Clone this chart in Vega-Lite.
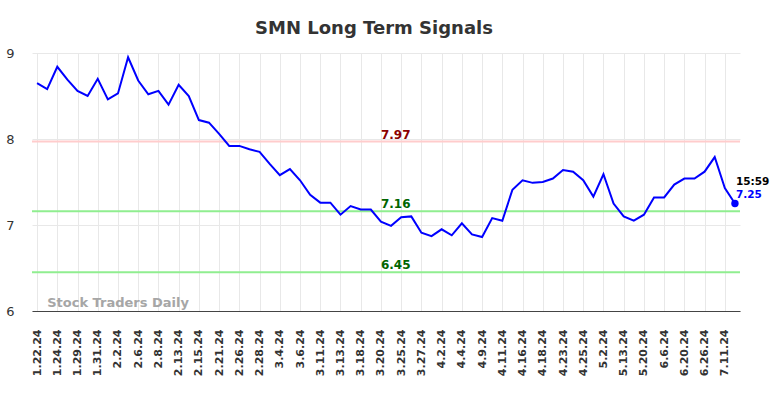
{
  "$schema": "https://vega.github.io/schema/vega-lite/v6.json",
  "width": 708,
  "height": 258,
  "autosize": "none",
  "padding": {"left": 32, "top": 53, "right": 44, "bottom": 87},
  "background": "white",
  "title": {
    "text": "SMN Long Term Signals",
    "font": "DejaVu Sans",
    "fontSize": 18,
    "fontWeight": "bold",
    "color": "#333333",
    "anchor": "middle",
    "dx": -12,
    "offset": 9
  },
  "config": {
    "view": {"stroke": null},
    "font": "DejaVu Sans"
  },
  "datasets": {
    "prices": [
      {"date": "1.22.24", "close": 8.65},
      {"date": "1.23.24", "close": 8.58},
      {"date": "1.24.24", "close": 8.84},
      {"date": "1.26.24", "close": 8.69},
      {"date": "1.29.24", "close": 8.56},
      {"date": "1.30.24", "close": 8.50},
      {"date": "1.31.24", "close": 8.70},
      {"date": "2.1.24", "close": 8.46},
      {"date": "2.2.24", "close": 8.53},
      {"date": "2.5.24", "close": 8.95},
      {"date": "2.6.24", "close": 8.68},
      {"date": "2.7.24", "close": 8.52},
      {"date": "2.8.24", "close": 8.56},
      {"date": "2.12.24", "close": 8.40},
      {"date": "2.13.24", "close": 8.63},
      {"date": "2.14.24", "close": 8.50},
      {"date": "2.15.24", "close": 8.22},
      {"date": "2.20.24", "close": 8.19},
      {"date": "2.21.24", "close": 8.06},
      {"date": "2.23.24", "close": 7.92},
      {"date": "2.26.24", "close": 7.92},
      {"date": "2.27.24", "close": 7.88},
      {"date": "2.28.24", "close": 7.85},
      {"date": "3.1.24", "close": 7.71},
      {"date": "3.4.24", "close": 7.58},
      {"date": "3.5.24", "close": 7.65},
      {"date": "3.6.24", "close": 7.52},
      {"date": "3.8.24", "close": 7.35},
      {"date": "3.11.24", "close": 7.26},
      {"date": "3.12.24", "close": 7.26},
      {"date": "3.13.24", "close": 7.12},
      {"date": "3.15.24", "close": 7.22},
      {"date": "3.18.24", "close": 7.18},
      {"date": "3.19.24", "close": 7.18},
      {"date": "3.20.24", "close": 7.04},
      {"date": "3.22.24", "close": 6.99},
      {"date": "3.25.24", "close": 7.09},
      {"date": "3.26.24", "close": 7.10},
      {"date": "3.27.24", "close": 6.91},
      {"date": "4.1.24", "close": 6.87},
      {"date": "4.2.24", "close": 6.95},
      {"date": "4.3.24", "close": 6.88},
      {"date": "4.4.24", "close": 7.02},
      {"date": "4.8.24", "close": 6.89},
      {"date": "4.9.24", "close": 6.86},
      {"date": "4.10.24", "close": 7.08},
      {"date": "4.11.24", "close": 7.05},
      {"date": "4.15.24", "close": 7.41},
      {"date": "4.16.24", "close": 7.52},
      {"date": "4.17.24", "close": 7.49},
      {"date": "4.18.24", "close": 7.50},
      {"date": "4.22.24", "close": 7.54},
      {"date": "4.23.24", "close": 7.64},
      {"date": "4.24.24", "close": 7.62},
      {"date": "4.25.24", "close": 7.52},
      {"date": "4.30.24", "close": 7.33},
      {"date": "5.2.24", "close": 7.59},
      {"date": "5.8.24", "close": 7.25},
      {"date": "5.13.24", "close": 7.10},
      {"date": "5.16.24", "close": 7.05},
      {"date": "5.20.24", "close": 7.12},
      {"date": "5.29.24", "close": 7.32},
      {"date": "6.6.24", "close": 7.32},
      {"date": "6.14.24", "close": 7.47},
      {"date": "6.20.24", "close": 7.54},
      {"date": "6.24.24", "close": 7.54},
      {"date": "6.26.24", "close": 7.62},
      {"date": "7.3.24", "close": 7.79},
      {"date": "7.11.24", "close": 7.43},
      {"date": "7.12.24", "close": 7.25}
    ],
    "levels": [
      {"level": 7.97, "label": "7.97", "kind": "resistance"},
      {"level": 7.16, "label": "7.16", "kind": "support"},
      {"level": 6.45, "label": "6.45", "kind": "support"}
    ]
  },
  "encoding": {
    "x": {
      "field": "date",
      "type": "ordinal",
      "sort": null,
      "scale": {"type": "point", "padding": 0.5},
      "axis": {
        "title": null,
        "values": ["1.22.24","1.24.24","1.29.24","1.31.24","2.2.24","2.6.24","2.8.24","2.13.24","2.15.24","2.21.24","2.26.24","2.28.24","3.4.24","3.6.24","3.11.24","3.13.24","3.18.24","3.20.24","3.25.24","3.27.24","4.2.24","4.4.24","4.9.24","4.11.24","4.16.24","4.18.24","4.23.24","4.25.24","5.2.24","5.13.24","5.20.24","6.6.24","6.20.24","6.26.24","7.11.24"],
        "labelAngle": -90,
        "labelAlign": "right",
        "labelBaseline": "middle",
        "labelFont": "DejaVu Sans",
        "labelFontSize": 11,
        "labelFontWeight": "bold",
        "labelColor": "#333333",
        "labelPadding": 18,
        "ticks": false,
        "grid": true,
        "gridColor": "#e8e8e8",
        "gridWidth": 1,
        "domain": true,
        "domainColor": "#444444",
        "domainWidth": 1.2,
        "labelOverlap": false
      }
    }
  },
  "layer": [
    {
      "mark": {"type": "line", "opacity": 0},
      "encoding": {
        "y": {
          "field": "close",
          "type": "quantitative",
          "scale": {"domain": [6, 9], "nice": false, "zero": false},
          "axis": {
            "title": null,
            "values": [6, 7, 8, 9],
            "format": "d",
            "labelFont": "DejaVu Sans",
            "labelFontSize": 13,
            "labelColor": "#333333",
            "labelPadding": 18,
            "ticks": false,
            "domain": false,
            "grid": true,
            "gridColor": "#e8e8e8",
            "gridWidth": 1
          }
        }
      },
      "data": {"name": "prices"}
    },
    {
      "data": {"name": "levels"},
      "mark": {"type": "rule", "strokeWidth": 2},
      "encoding": {
        "x": null,
        "y": {"field": "level", "type": "quantitative"},
        "stroke": {
          "field": "kind",
          "type": "nominal",
          "scale": {"domain": ["resistance", "support"], "range": ["#ffcccc", "#90ee90"]},
          "legend": null
        }
      }
    },
    {
      "data": {"name": "levels"},
      "mark": {"type": "text", "align": "left", "baseline": "alphabetic", "dy": -3, "fontSize": 12, "fontWeight": "bold", "font": "DejaVu Sans"},
      "encoding": {
        "x": {"datum": "3.20.24"},
        "y": {"field": "level", "type": "quantitative"},
        "text": {"field": "label"},
        "fill": {
          "field": "kind",
          "type": "nominal",
          "scale": {"domain": ["resistance", "support"], "range": ["#8b0000", "#006400"]},
          "legend": null
        }
      }
    },
    {
      "data": {"name": "prices"},
      "mark": {"type": "line", "color": "#0000ff", "strokeWidth": 2},
      "encoding": {
        "y": {"field": "close", "type": "quantitative"}
      }
    },
    {
      "data": {"name": "prices"},
      "transform": [{"filter": "datum.date === '7.12.24'"}],
      "layer": [
        {
          "mark": {"type": "point", "filled": true, "color": "#0000ff", "size": 55, "opacity": 1},
          "encoding": {"y": {"field": "close", "type": "quantitative"}}
        },
        {
          "mark": {"type": "text", "text": "15:59", "align": "left", "baseline": "alphabetic", "dx": 1, "dy": -19, "fontSize": 10.5, "fontWeight": "bold", "font": "DejaVu Sans", "color": "#000000"},
          "encoding": {"y": {"field": "close", "type": "quantitative"}}
        },
        {
          "mark": {"type": "text", "align": "left", "baseline": "alphabetic", "dx": 1, "dy": -6, "fontSize": 10.5, "fontWeight": "bold", "font": "DejaVu Sans", "color": "#0000ff"},
          "encoding": {
            "y": {"field": "close", "type": "quantitative"},
            "text": {"field": "close", "type": "quantitative", "format": ".2f"}
          }
        }
      ]
    },
    {
      "data": {"values": [{"mark": "Stock Traders Daily"}]},
      "mark": {"type": "text", "align": "left", "baseline": "alphabetic", "dy": -4, "fontSize": 13, "fontWeight": "bold", "font": "DejaVu Sans", "color": "#a6a6a6"},
      "encoding": {
        "x": {"datum": "1.23.24"},
        "y": {"datum": 6},
        "text": {"field": "mark"}
      }
    }
  ]
}
